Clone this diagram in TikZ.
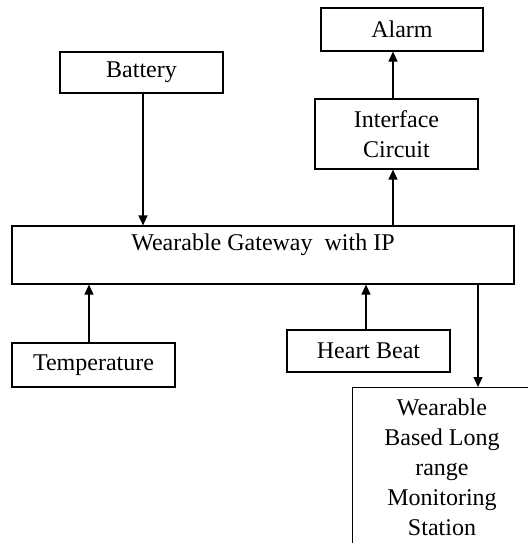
\documentclass[tikz,border=0pt]{standalone}
\usepackage{fontspec}
\setmainfont{Liberation Serif}
\usetikzlibrary{arrows.meta,positioning,calc}

\begin{document}
\begin{tikzpicture}[x=0.5pt, y=-0.5pt,
    box/.style={draw, line width=0.6pt, inner sep=2pt, align=center,
      font=\fontsize{12}{15}\selectfont},
    txt/.style={inner sep=0pt, align=center, font=\fontsize{12}{15}\selectfont},
    arr/.style={line width=0.6pt, -{Triangle[width=4.5pt,length=5pt]}}]
    \useasboundingbox (0,0) rectangle (528,543);

    % top row
    \node[box, minimum width=81pt, minimum height=21.5pt] (alarm) at (402,29.5) {Alarm};
    \node[box, minimum width=81.5pt, minimum height=20.5pt] (battery) at (141.5,72.5) {Battery};
    \node[box, minimum width=81.5pt, minimum height=35pt] (iface) at (396.5,134) {Interface\\Circuit};

    % gateway (label sits near the top edge)
    \node[box, minimum width=251pt, minimum height=29pt] (gate) at (263,255) {};
    \node[txt] (gatelabel) at (263,245) {Wearable Gateway\ \ with IP};

    % sensors
    \node[box, minimum width=81.5pt, minimum height=22pt] (temp) at (93.5,365) {Temperature};
    \node[box, minimum width=81.5pt, minimum height=21pt] (heart) at (368.5,351) {Heart Beat};

    % monitoring station, runs off the page
    \node[box, anchor=north west, minimum width=90pt, minimum height=100pt] (station) at (352,387) {};
    \node[txt] (stationtext) at (442,467.5) {Wearable\\Based Long\\range\\Monitoring\\Station};

    % risers
    \coordinate (riser) at (393,0);
    \coordinate (tap) at (478,0);

    \draw[arr] (battery.south -| 143,0) -- (gate.north -| 143,0);
    \draw[arr] (gate.north -| riser) -- (iface.south -| riser);
    \draw[arr] (iface.north -| riser) -- (alarm.south -| riser);
    \draw[arr] (temp.north -| 89,0) -- (gate.south -| 89,0);
    \draw[arr] (heart.north -| 366,0) -- (gate.south -| 366,0);
    \draw[arr] (gate.south -| tap) -- (station.north -| tap);
  \end{tikzpicture}
\end{document}
